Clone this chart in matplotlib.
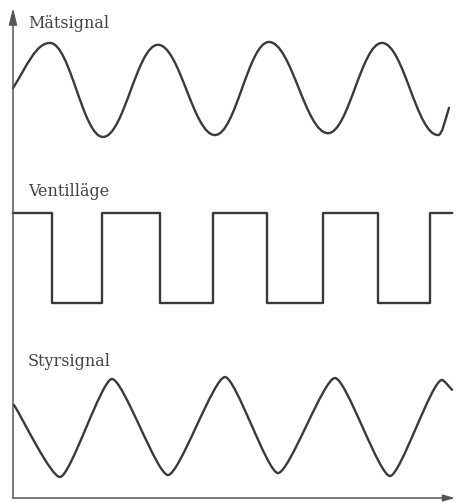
from matplotlib import pyplot as plt
from matplotlib.path import Path
from matplotlib.patches import PathPatch
import numpy as np

# ============================================================
# Data (time in arbitrary units)
# ============================================================
# Mätsignal: start, peaks/troughs, end
mat_t = [0.0, 3.7, 9.0, 14.5, 20.2, 25.6, 31.5, 36.9, 42.5, 43.6]
mat_v = [0.02, 0.98, -1.02, 0.94, -0.98, 1.0, -0.94, 0.98, -0.98, -0.40]

# Ventilläge: switching times and state (1 = open, 0 = closed)
valve_t = [0.0, 3.9, 8.9, 14.7, 20.0, 25.4, 31.0, 36.5, 41.7, 43.9]
valve_v = [1, 0, 1, 0, 1, 0, 1, 0, 1, 1]

# Styrsignal: start, troughs/peaks, end
styr_t = [0.1, 4.7, 9.9, 15.5, 21.2, 26.5, 32.2, 37.7, 42.9, 43.9]
styr_v = [0.45, -1.02, 0.98, -0.98, 1.02, -0.94, 1.0, -1.0, 0.96, 0.76]

labels = ['Mätsignal', 'Ventilläge', 'Styrsignal']

# ============================================================
# Layout (vertical placement of the three traces)
# ============================================================
mat_center, mat_amp = 414, 47
valve_low, valve_high = 200, 290
styr_center, styr_amp = 76, 49

line_color = '#3a3a3a'
axis_color = '#555555'


def smooth_path(ts, vs, h, end_k):
    # cubic bezier between the read knots, flat tangents at the extremes
    verts = [(ts[0], vs[0])]
    codes = [Path.MOVETO]
    n = len(ts)
    for i in range(n - 1):
        x0, y0, x1, y1 = ts[i], vs[i], ts[i + 1], vs[i + 1]
        dx = x1 - x0
        s0 = end_k * (y1 - y0) / dx if i == 0 else 0.0
        s1 = end_k * (y1 - y0) / dx if i == n - 2 else 0.0
        verts += [(x0 + h * dx, y0 + h * dx * s0),
                  (x1 - h * dx, y1 - h * dx * s1),
                  (x1, y1)]
        codes += [Path.CURVE4] * 3
    return Path(verts, codes)


fig = plt.figure(figsize=(4.57, 5.03), dpi=100)
ax = fig.add_axes([0, 0, 1, 1])
ax.set_xlim(-1.3, 44.4)
ax.set_ylim(0, 503)
ax.axis('off')

# Mätsignal
mat_y = mat_center + mat_amp * np.array(mat_v)
ax.add_patch(PathPatch(smooth_path(mat_t, mat_y, 0.38, 1.3), fill=False,
                       edgecolor=line_color, lw=1.7, capstyle='round'))

# Ventilläge (step curve)
valve_y = np.where(np.array(valve_v) == 1, valve_high, valve_low)
ax.plot(valve_t, valve_y, drawstyle='steps-post', color=line_color, lw=1.7)

# Styrsignal (more triangular, so shorter handles)
styr_y = styr_center + styr_amp * np.array(styr_v)
ax.add_patch(PathPatch(smooth_path(styr_t, styr_y, 0.2, 1.0), fill=False,
                       edgecolor=line_color, lw=1.7, capstyle='round'))

# labels
label_y = [475, 307, 137]
for txt, y in zip(labels, label_y):
    ax.text(1.5, y, txt, family='DejaVu Serif', fontsize=11.5,
            color='#444444', va='baseline', ha='left')

# axes with arrows
ax.annotate('', xy=(0, 495), xytext=(0, 5),
            arrowprops=dict(arrowstyle='-|>,head_length=1.0,head_width=0.25',
                            color=axis_color, lw=1.1, shrinkA=0, shrinkB=0))
ax.annotate('', xy=(44.2, 5), xytext=(0, 5),
            arrowprops=dict(arrowstyle='-|>,head_length=0.7,head_width=0.2',
                            color=axis_color, lw=1.1, shrinkA=0, shrinkB=0))

plt.savefig('out.png', dpi=100)
